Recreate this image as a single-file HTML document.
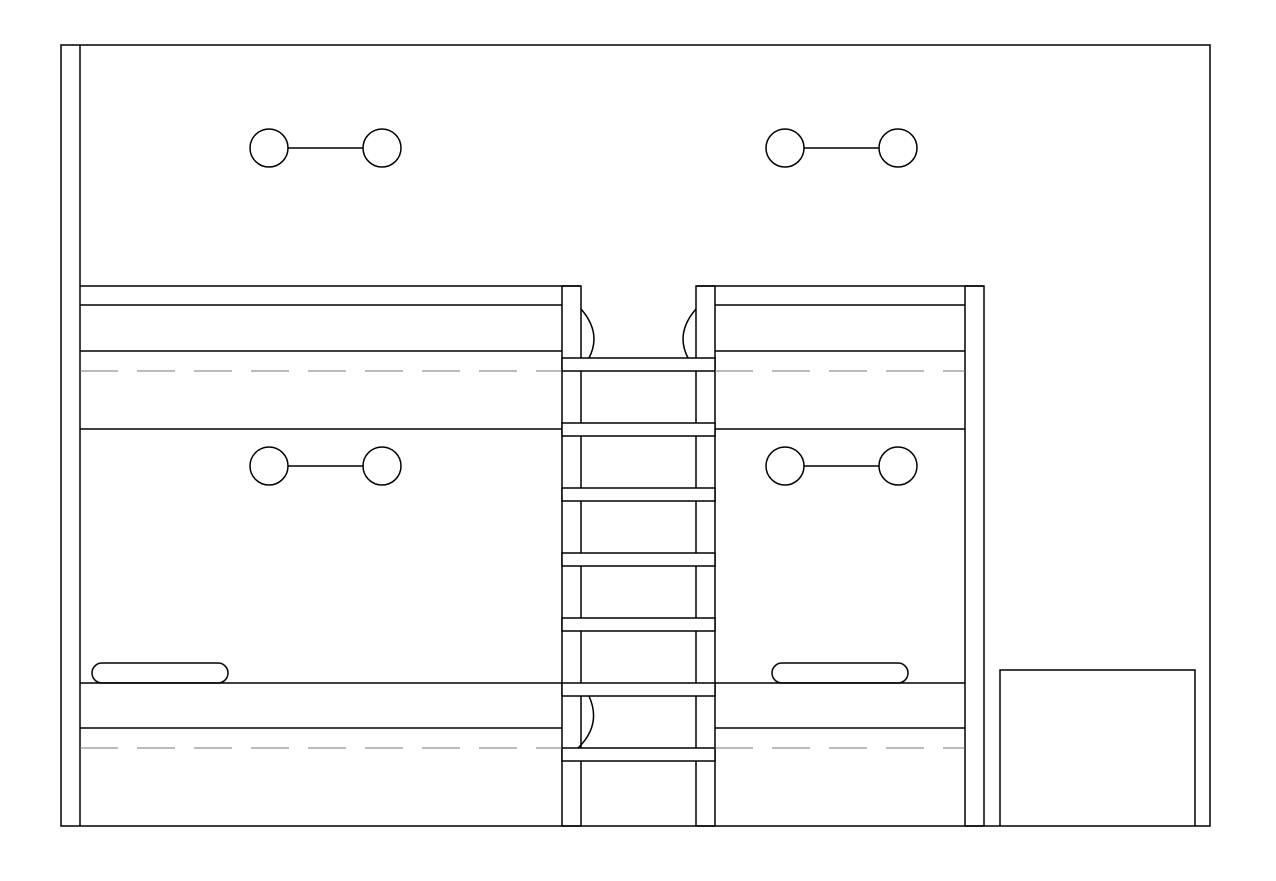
<!DOCTYPE html><html><head><style>body{margin:0;background:#fff}</style></head><body>
<svg width="1276" height="876" xmlns="http://www.w3.org/2000/svg" fill="none" stroke="#000" stroke-width="1.5">
<path d="M61 45H1210V826H61Z M80 45V826"/>
<!-- left bed -->
<path d="M80 286H581 M80 305H562 M80 351H562 M80 429H562 M80 683H562 M80 728H562"/>
<!-- ladder posts -->
<rect x="562" y="286" width="19" height="540"/>
<rect x="696" y="286" width="19" height="540"/>
<!-- right bed -->
<path d="M696 286H984 M715 305H965 M715 351H965 M715 429H965 M715 683H965 M715 728H965"/>
<rect x="965" y="286" width="19" height="540"/>
<!-- rungs -->
<g fill="#fff">
<rect x="562" y="358" width="153" height="13"/>
<rect x="562" y="423" width="153" height="13"/>
<rect x="562" y="488" width="153" height="13"/>
<rect x="562" y="553" width="153" height="13"/>
<rect x="562" y="618" width="153" height="13"/>
<rect x="562" y="683" width="153" height="13"/>
<rect x="562" y="748" width="153" height="13"/>
</g>
<!-- dashed -->
<path d="M80 371H562 M715 371H965 M80 748H562 M715 748H965" stroke="#777" stroke-width="1" stroke-dasharray="38 19"/>
<!-- arcs -->
<path d="M581 309 Q602 333 589 358 M696 309 Q675 333 688 358 M589 696 Q602 725 578 748"/>
<!-- box -->
<path d="M1000 826V670H1195V826"/>
<!-- pillows -->
<rect x="92" y="663" width="136" height="20" rx="10"/>
<rect x="772" y="663" width="136" height="20" rx="10"/>
<!-- lamps -->
<g>
<circle cx="269" cy="148" r="19"/><circle cx="382" cy="148" r="19"/><path d="M288 148H363"/>
<circle cx="785" cy="148" r="19"/><circle cx="898" cy="148" r="19"/><path d="M804 148H879"/>
<circle cx="269" cy="466" r="19"/><circle cx="382" cy="466" r="19"/><path d="M288 466H363"/>
<circle cx="785" cy="466" r="19"/><circle cx="898" cy="466" r="19"/><path d="M804 466H879"/>
</g>
</svg>
</body></html>
